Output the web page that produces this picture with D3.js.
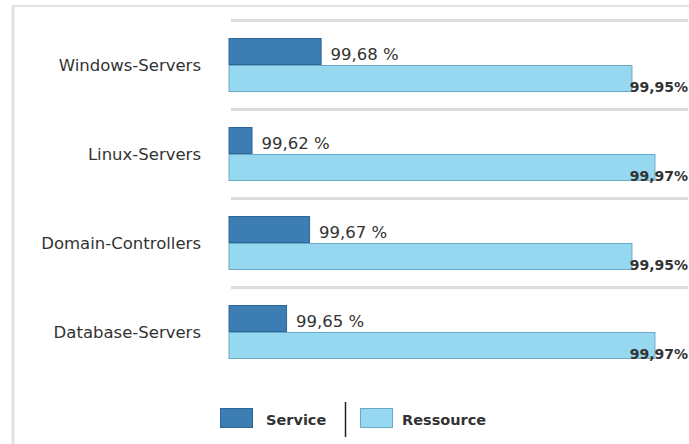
<!DOCTYPE html>
<html><head><meta charset="utf-8">
<script src="https://cdn.jsdelivr.net/npm/d3@7"></script>
<style>
html,body{margin:0;padding:0;background:#fff;}
svg{display:block;}
</style></head>
<body>
<svg id="chart" width="689" height="444"></svg>
<script>
const categories = ["Windows-Servers","Linux-Servers","Domain-Controllers","Database-Servers"];
const seriesNames = ["Service","Ressource"];
const serviceValues = [99.68, 99.62, 99.67, 99.65];
const ressourceValues = [99.95, 99.97, 99.95, 99.97];
const serviceLabels = ["99,68 %","99,62 %","99,67 %","99,65 %"];
const ressourceLabels = ["99,95%","99,97%","99,95%","99,97%"];

const colors = {Service:{fill:"#3c7db3",stroke:"#2c6596"}, Ressource:{fill:"#95d8f0",stroke:"#6aa9c6"}};
const font = "'DejaVu Sans', Verdana, sans-serif";

const svg = d3.select("#chart");

// frame
svg.append("line").attr("x1",12).attr("x2",689).attr("y1",6).attr("y2",6).attr("stroke","#e2e2e2").attr("stroke-width",2);
svg.append("line").attr("x1",13).attr("x2",13).attr("y1",5).attr("y2",444).attr("stroke","#e2e2e2").attr("stroke-width",3);

const x = d3.scaleLinear().domain([99.6, 100]).range([228.5, 689]);
const y = d3.scaleBand().domain(categories).range([20, 376]).paddingInner(0).paddingOuter(0);
const ySub = d3.scaleBand().domain(seriesNames).range([18, 72]).padding(0);

const data = categories.map((c,i)=>({cat:c, values:[
  {key:"Service", v:serviceValues[i], label:serviceLabels[i]},
  {key:"Ressource", v:ressourceValues[i], label:ressourceLabels[i]}
]}));

// separators
svg.selectAll("line.sep").data(categories).enter().append("line")
  .attr("class","sep")
  .attr("x1",231).attr("x2",688)
  .attr("y1",d=>y(d)+0.5).attr("y2",d=>y(d)+0.5)
  .attr("stroke","#dcdcdc").attr("stroke-width",3);

const g = svg.selectAll("g.grp").data(data).enter().append("g")
  .attr("class","grp").attr("transform",d=>`translate(0,${y(d.cat)})`);

g.selectAll("rect").data(d=>d.values).enter().append("rect")
  .attr("x",x(99.6)+0.5)
  .attr("y",d=>ySub(d.key)+0.5)
  .attr("width",d=>x(d.v)-x(99.6))
  .attr("height",ySub.bandwidth()-1)
  .attr("fill",d=>colors[d.key].fill)
  .attr("stroke",d=>colors[d.key].stroke)
  .attr("stroke-width",1);

// category labels
g.append("text")
  .attr("x",201)
  .attr("y",ySub("Ressource"))
  .attr("dy","0.35em")
  .attr("text-anchor","end")
  .attr("font-family",font).attr("font-size",16.5).attr("fill","#333")
  .text(d=>d.cat);

// service labels
g.append("text")
  .attr("x",d=>x(d.values[0].v)+10)
  .attr("y",ySub("Service")+ySub.bandwidth()-5)
  .attr("font-family",font).attr("font-size",16.5).attr("fill","#333")
  .text(d=>d.values[0].label);

// ressource labels
g.append("text")
  .attr("x",688)
  .attr("y",ySub("Ressource")+ySub.bandwidth()-0.5)
  .attr("text-anchor","end")
  .attr("font-family",font).attr("font-size",14).attr("font-weight","bold").attr("fill","#333")
  .text(d=>d.values[1].label);

// legend
const leg = svg.append("g");
const legItems = [{key:"Service", sx:220, tx:266},{key:"Ressource", sx:360, tx:402}];
leg.selectAll("rect").data(legItems).enter().append("rect")
  .attr("x",d=>d.sx+0.5).attr("y",408.5).attr("width",32).attr("height",19)
  .attr("fill",d=>colors[d.key].fill).attr("stroke",d=>colors[d.key].stroke);
leg.selectAll("text").data(legItems).enter().append("text")
  .attr("x",d=>d.tx).attr("y",420).attr("dy","0.35em")
  .attr("font-family",font).attr("font-size",14.5).attr("font-weight","600").attr("fill","#333")
  .text(d=>d.key);
leg.append("line").attr("x1",345.5).attr("x2",345.5).attr("y1",402).attr("y2",437).attr("stroke","#222").attr("stroke-width",1.5);
</script>
</body></html>
